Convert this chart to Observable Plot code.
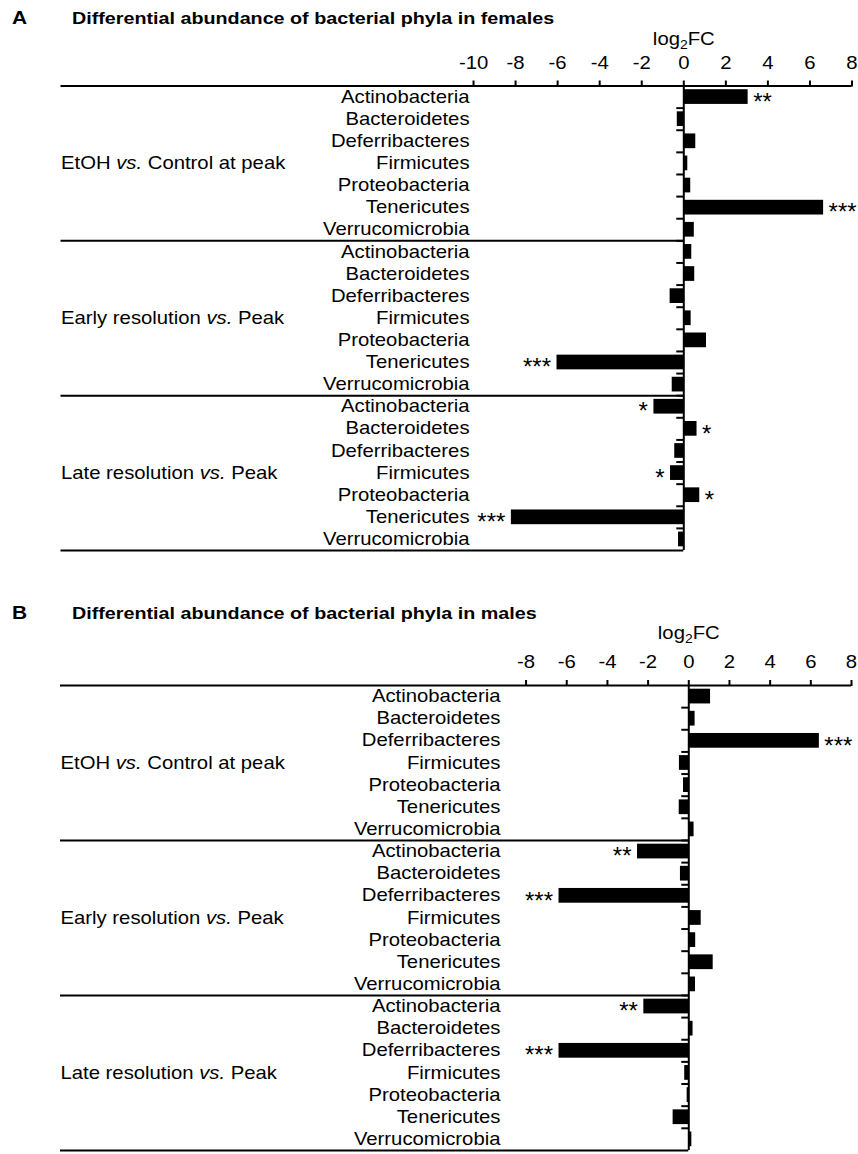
<!DOCTYPE html>
<html><head><meta charset="utf-8">
<script src="https://cdn.jsdelivr.net/npm/d3@7"></script>
<script src="https://cdn.jsdelivr.net/npm/@observablehq/plot@0.6"></script>
<style>
body{margin:0;background:#fff;}
#fig{position:relative;width:858px;height:1154px;overflow:hidden;font-family:"Liberation Sans",Arial,sans-serif;color:#000;background:#fff;}
.hdr{position:absolute;font-weight:bold;font-size:17px;line-height:17px;white-space:nowrap;transform:scaleX(1.16);transform-origin:0 0;}
.panel{position:absolute;left:0;}
</style></head><body><div id="fig"></div>
<script>
// ---- data ----
const phyla = ["Actinobacteria","Bacteroidetes","Deferribacteres","Firmicutes","Proteobacteria","Tenericutes","Verrucomicrobia"];
const comparisons = ["EtOH vs. Control at peak","Early resolution vs. Peak","Late resolution vs. Peak"];

const femaleEtOH  = [3.06, -0.31, 0.57, 0.19, 0.33, 6.65, 0.50];
const femaleEarly = [0.38, 0.52, -0.65, 0.35, 1.08, -6.03, -0.55];
const femaleLate  = [-1.42, 0.63, -0.43, -0.63, 0.76, -8.20, -0.25];
const femaleEtOHSig  = ["**","","","","","***",""];
const femaleEarlySig = ["","","","","","***",""];
const femaleLateSig  = ["*","*","","*","*","***",""];

const maleEtOH  = [1.07, 0.31, 6.42, -0.46, -0.26, -0.47, 0.26];
const maleEarly = [-2.52, -0.41, -6.38, 0.61, 0.34, 1.20, 0.33];
const maleLate  = [-2.21, 0.21, -6.38, -0.20, -0.08, -0.77, 0.15];
const maleEtOHSig  = ["","","***","","","",""];
const maleEarlySig = ["**","","***","","","",""];
const maleLateSig  = ["**","","***","","","",""];

const femaleTicks = [-10, -8, -6, -4, -2, 0, 2, 4, 6, 8];
const maleTicks = [-8, -6, -4, -2, 0, 2, 4, 6, 8];
const axisLabel = "log2FC";
const panelTitles = ["Differential abundance of bacterial phyla in females", "Differential abundance of bacterial phyla in males"];
const panelLetters = ["A", "B"];

// ---- helpers ----
function buildRows(groups, sigs) {
  return groups.flatMap((g, gi) => g.map((v, pi) => ({
    row: gi * phyla.length + pi, phylum: phyla[pi], group: comparisons[gi], fc: v, sig: sigs[gi][pi]
  })));
}
const NS = "http://www.w3.org/2000/svg";
function tspan(txt, attrs = {}) {
  const t = document.createElementNS(NS, "tspan");
  t.textContent = txt;
  for (const k in attrs) t.setAttribute(k, attrs[k]);
  return t;
}
function postProcess(svg, k) {
  svg.querySelectorAll("text").forEach(t => {
    const s = t.textContent;
    if (s.includes(" vs. ")) {
      const [a, b] = s.split(" vs. ");
      t.textContent = "";
      t.append(tspan(a + " "), tspan("vs.", {"font-style": "italic"}), tspan(" " + b));
    } else if (s === axisLabel) {
      t.textContent = "";
      t.append(tspan("log"), tspan("2", {"font-size": "12px", dy: "4"}), tspan("FC", {dy: "-4"}));
    }
  });
  svg.querySelectorAll("g[aria-label^='x-axis'] path, g[aria-label^='x-axis'] line").forEach(p => p.setAttribute("stroke-width", 2));
  svg.querySelectorAll("text").forEach(t => {
    if (/^\*+$/.test(t.textContent)) return; // significance stars keep natural width
    const len = t.getComputedTextLength();
    if (len > 0) { t.setAttribute("textLength", len * k); t.setAttribute("lengthAdjust", "spacingAndGlyphs"); }
  });
}

function panel({data, xMin, ticks, labelX, top, marginTop, rowH, marginBottom, marginLeft, marginRight, labelDy}) {
  const nRows = comparisons.length * phyla.length;
  const height = marginTop + nRows * rowH + marginBottom;
  const pxPerUnit = (858 - marginLeft - marginRight) / (8 - xMin);
  const minorLen = 7 / pxPerUnit;
  const boundaries = d3.range(1, nRows);
  const groupEdges = d3.range(1, comparisons.length + 1).map(i => i * phyla.length);
  const sw = 2;
  const plot = Plot.plot({
    width: 858, height, marginTop, marginBottom, marginLeft, marginRight,
    style: {fontFamily: "'Liberation Sans', Arial, sans-serif", fontSize: "17.5px", color: "black", background: "white", overflow: "visible"},
    x: {domain: [xMin, 8], axis: "top", ticks, tickSize: 6, tickPadding: 11,
        tickFormat: d => d < 0 ? "-" + (-d) : String(d), label: null},
    y: {domain: [0, nRows], reverse: true, axis: null},
    marks: [
      Plot.rect(data, {x1: 0, x2: "fc", y1: "row", y2: d => d.row + 1, insetTop: 3.7, insetBottom: 3.7, fill: "black"}),
      Plot.ruleY(boundaries, {x1: -minorLen, x2: 0, stroke: "black", strokeWidth: sw}),
      Plot.ruleY(groupEdges, {x1: xMin, x2: 0, stroke: "black", strokeWidth: sw}),
      Plot.ruleY([0], {x1: xMin, x2: 8, stroke: "black", strokeWidth: sw}),
      Plot.ruleX([0], {y1: 0, y2: nRows, stroke: "black", strokeWidth: sw}),
      Plot.text(data, {x: labelX, y: d => d.row + 0.5, text: "phylum", textAnchor: "end", fontSize: 17.5, fill: "black"}),
      Plot.text(comparisons, {x: xMin, y: (d, i) => i * phyla.length + phyla.length / 2, text: d => d, textAnchor: "start", fontSize: 17.5, fill: "black"}),
      Plot.text(data.filter(d => d.sig && d.fc > 0), {x: "fc", y: d => d.row + 0.5, text: "sig", textAnchor: "start", dx: 5, dy: 5, fontSize: 24, fill: "black"}),
      Plot.text(data.filter(d => d.sig && d.fc < 0), {x: "fc", y: d => d.row + 0.5, text: "sig", textAnchor: "end", dx: -6, dy: 5, fontSize: 24, fill: "black"}),
      Plot.text([axisLabel], {x: 0, frameAnchor: "top", dy: labelDy, lineAnchor: "bottom", text: d => d, fontSize: 17.5, fill: "black"})
    ]
  });
  plot.classList.add("panel");
  plot.style.top = top + "px";
  return plot;
}

const fig = document.getElementById("fig");
function header(letter, title, top) {
  const a = document.createElement("div");
  a.className = "hdr"; a.style.left = "12px"; a.style.top = top + "px"; a.style.fontSize = "18px"; a.textContent = letter;
  const b = document.createElement("div");
  b.className = "hdr"; b.style.left = "72px"; b.style.top = top + "px"; b.textContent = title;
  fig.append(a, b);
}

const femaleData = buildRows([femaleEtOH, femaleEarly, femaleLate], [femaleEtOHSig, femaleEarlySig, femaleLateSig]);
const maleData = buildRows([maleEtOH, maleEarly, maleLate], [maleEtOHSig, maleEarlySig, maleLateSig]);

const pA = panel({data: femaleData, xMin: -29.62, ticks: femaleTicks, labelX: -10.19, top: 0,
  marginTop: 85.5, rowH: 22.12, marginBottom: 4, marginLeft: 60.5, marginRight: 6.5, labelDy: -41});
const pB = panel({data: maleData, xMin: -30.89, ticks: maleTicks, labelX: -9.26, top: 600,
  marginTop: 85, rowH: 22.14, marginBottom: 3, marginLeft: 60, marginRight: 7, labelDy: -46});
fig.append(pA, pB);
header(panelLetters[0], panelTitles[0], 10);
header(panelLetters[1], panelTitles[1], 605);
postProcess(pA, 1.16);
postProcess(pB, 1.16);
</script></body></html>
